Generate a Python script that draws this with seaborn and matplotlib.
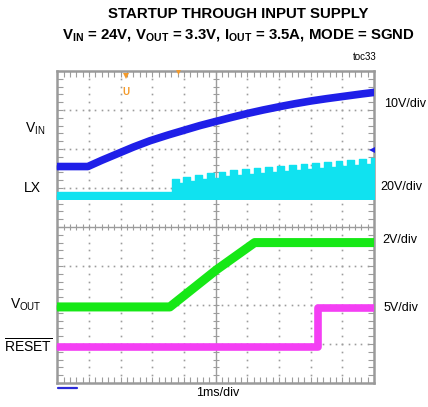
import numpy as np
import pandas as pd
import matplotlib
matplotlib.use("Agg")
import matplotlib.pyplot as plt
import seaborn as sns

# ---- scope traces (time in ms, values in volts) ----
vin_t = [0.0, 0.96, 1.4, 1.9, 2.4, 2.92, 3.5, 4.0, 4.5, 5.02, 5.5, 6.0,
         6.5, 7.11, 7.5, 8.0, 8.5, 9.23, 9.6, 10.0]
vin_v = [0.0, 0.0, 1.6, 3.3, 5.0, 6.6, 8.1, 9.3, 10.5, 11.6, 12.6, 13.6,
         14.5, 15.5, 16.1, 16.8, 17.4, 18.2, 18.6, 19.0]

lx_idle_top = 2.5
lx_floor = -1.8
lx_burst_t = [3.62, 3.98, 4.35, 4.72, 5.09, 5.46, 5.83, 6.20, 6.57,
              6.94, 7.31, 7.68, 8.05, 8.42, 8.79, 9.16, 9.53, 9.90]
lx_burst_peak = [9.2, 10.2, 11.3, 12.2, 12.9, 13.6, 14.2, 14.8, 15.3,
                 15.8, 16.4, 16.9, 17.4, 18.0, 18.5, 19.0, 19.5, 20.2]
lx_burst_dip = [7.0, 8.0, 9.0, 9.8, 10.5, 11.2, 11.8, 12.4, 12.9,
                13.4, 14.0, 14.5, 15.0, 15.6, 16.1, 16.6, 17.1, 17.8]

vout_t = [0.0, 3.55, 5.02, 6.23, 10.0]
vout_v = [0.0, 0.0, 1.9, 3.3, 3.3]

reset_t = [0.0, 8.23, 8.23, 10.0]
reset_v = [0.0, 0.0, 5.0, 5.0]

# channel placement: (ground position in divisions, volts per division)
CH = {
    "VIN": (1.55, 10.0),
    "LX": (0.77, 20.0),
    "VOUT": (-2.05, 2.0),
    "RESET": (-3.08, 5.0),
}
COL = {
    "VIN": "#1f1fe8",
    "LX": "#10e2f0",
    "VOUT": "#16e816",
    "RESET": "#f43ff4",
}


def to_div(ch, volts):
    g, s = CH[ch]
    return g + np.asarray(volts, dtype=float) / s


sns.set_style("white")
plt.rcParams["font.family"] = ["Liberation Sans", "DejaVu Sans"]
plt.rcParams["text.color"] = "black"
plt.rcParams["mathtext.fontset"] = "custom"
plt.rcParams["mathtext.rm"] = "Liberation Sans:bold"
plt.rcParams["mathtext.bf"] = "Liberation Sans:bold"
plt.rcParams["mathtext.it"] = "Liberation Sans:bold"
plt.rcParams["mathtext.sf"] = "Liberation Sans"

fig = plt.figure(figsize=(4.28, 4.07), dpi=100)
ax = fig.add_axes([0.1343, 0.0590, 0.7395, 0.7666])
ax.set_xlim(0, 10)
ax.set_ylim(-4, 4)

GRID = "#9c9c9c"
# dotted graticule
for xv in range(1, 10):
    if xv == 5:
        continue
    ys = np.arange(-4, 4.001, 0.2)
    ax.plot(np.full_like(ys, xv), ys, ls="none", marker="s", ms=1.2,
            color=GRID, mew=0, zorder=1)
for yv in range(-3, 4):
    if yv == 0:
        continue
    xs = np.arange(0, 10.001, 0.2)
    ax.plot(xs, np.full_like(xs, yv), ls="none", marker="s", ms=1.2,
            color=GRID, mew=0, zorder=1)
# centre cross with minor ticks
ax.axhline(0, color=GRID, lw=1.0, zorder=1)
ax.axvline(5, color=GRID, lw=1.0, zorder=1)
xs = np.arange(0, 10.001, 0.2)
ax.plot(xs, np.zeros_like(xs), ls="none", marker="|", ms=5, mew=0.8,
        color=GRID, zorder=1)
ys = np.arange(-4, 4.001, 0.2)
ax.plot(np.full_like(ys, 5.0), ys, ls="none", marker="_", ms=5, mew=0.8,
        color=GRID, zorder=1)

# LX switching band
env_t = [0.0, lx_burst_t[0]]
env_v = [lx_idle_top, lx_idle_top]
for i, (t0, pk, dp) in enumerate(zip(lx_burst_t, lx_burst_peak, lx_burst_dip)):
    t_next = lx_burst_t[i + 1] if i + 1 < len(lx_burst_t) else t0 + 0.37
    t_fall = t0 + 0.57 * (t_next - t0)
    env_t += [t0, t_fall, t_fall, t_next]
    env_v += [pk, pk, dp, dp]
env_t = np.array(env_t)
lx_df = pd.DataFrame({"t": env_t, "top": to_div("LX", env_v)})
ax.fill_between(lx_df["t"], to_div("LX", lx_floor), lx_df["top"],
                color=COL["LX"], lw=0, zorder=3)
sns.lineplot(data=lx_df, x="t", y="top", ax=ax, color=COL["LX"], lw=1.0,
             estimator=None, sort=False, zorder=3)

vin_df = pd.DataFrame({"t": vin_t, "y": to_div("VIN", vin_v)})
sns.lineplot(data=vin_df, x="t", y="y", ax=ax, color=COL["VIN"], lw=5.5,
             estimator=None, sort=False, zorder=4)

vout_df = pd.DataFrame({"t": vout_t, "y": to_div("VOUT", vout_v)})
sns.lineplot(data=vout_df, x="t", y="y", ax=ax, color=COL["VOUT"], lw=6.5,
             estimator=None, sort=False, zorder=4)

reset_df = pd.DataFrame({"t": reset_t, "y": to_div("RESET", reset_v)})
sns.lineplot(data=reset_df, x="t", y="y", ax=ax, color=COL["RESET"], lw=5.5,
             estimator=None, sort=False, zorder=4)
ax.plot([reset_t[1], reset_t[2]], to_div("RESET", [reset_v[1], reset_v[2]]),
        color=COL["RESET"], lw=1.0, zorder=4)

# channel ground markers on the left edge
for ch in CH:
    ax.plot([0.04], [CH[ch][0]], marker=">", ms=3, color=COL[ch],
            clip_on=False, zorder=6)
# trigger markers
ax.plot([2.15], [3.88], marker="v", ms=5, color="#f39a2b", mew=0,
        clip_on=False, zorder=6)
ax.text(2.15, 3.45, "U", color="#f39a2b", fontsize=7, fontweight="bold",
        ha="center", va="center", zorder=6)
ax.plot([3.8], [3.97], marker="v", ms=3.5, color="#f39a2b", mew=0,
        clip_on=False, zorder=6)
ax.plot([9.93], [1.97], marker="<", ms=4.5, color=COL["VIN"], mew=0,
        clip_on=False, zorder=6)

# frame and edge ticks
for sp in ax.spines.values():
    sp.set_color("#9a9a9a")
    sp.set_linewidth(1.8)
ax.set_xticks(np.arange(0, 10.01, 1))
ax.set_yticks(np.arange(-4, 4.01, 1))
ax.set_xticks(np.arange(0, 10.01, 0.2), minor=True)
ax.set_yticks(np.arange(-4, 4.01, 0.2), minor=True)
ax.tick_params(which="both", direction="in", top=True, right=True,
               bottom=True, left=True, length=4, width=0.8, color=GRID,
               labelbottom=False, labelleft=False)
ax.set_xlabel("")
ax.set_ylabel("")

# titles
fig.text(0.556, 1 - 14 / 407, "STARTUP THROUGH INPUT SUPPLY", ha="center",
         va="center", fontsize=10.8, fontweight="bold", color="black")
fig.text(0.556, 1 - 35 / 407,
         r"$\mathrm{V_{IN}}$ = 24V, $\mathrm{V_{OUT}}$ = 3.3V, "
         r"$\mathrm{I_{OUT}}$ = 3.5A, MODE = SGND",
         ha="center", va="center", fontsize=10.8, fontweight="bold",
         color="black")
fig.text(365 / 428, 1 - 57 / 407, "toc33", ha="center", va="center",
         fontsize=7, color="black")

# channel labels
def px(x, y):
    return x / 428, 1 - y / 407

fig.text(*px(35, 129), r"$\mathsf{V_{IN}}$", ha="center", va="center",
         fontsize=10, color="black")
fig.text(*px(32, 188), "LX", ha="center", va="center", fontsize=10,
         color="black")
fig.text(*px(26, 305), r"$\mathsf{V_{OUT}}$", ha="center", va="center",
         fontsize=10, color="black")
fig.text(*px(28, 346), r"$\overline{\mathsf{RESET}}$", ha="center",
         va="center", fontsize=10, color="black")

fig.text(*px(384, 104), "10V/div", ha="left", va="center", fontsize=9,
         color="black")
fig.text(*px(380, 187), "20V/div", ha="left", va="center", fontsize=9,
         color="black")
fig.text(*px(382, 240), "2V/div", ha="left", va="center", fontsize=9,
         color="black")
fig.text(*px(384, 308), "5V/div", ha="left", va="center", fontsize=9,
         color="black")
fig.text(*px(218, 393), "1ms/div", ha="center", va="center", fontsize=9,
         color="black")

# timebase bar below the frame
fig.add_artist(plt.Line2D([58 / 428, 77 / 428], [1 - 387.5 / 407] * 2,
                          color="#2a2ad8", lw=1.6))

fig.savefig("out.png", dpi=100)
